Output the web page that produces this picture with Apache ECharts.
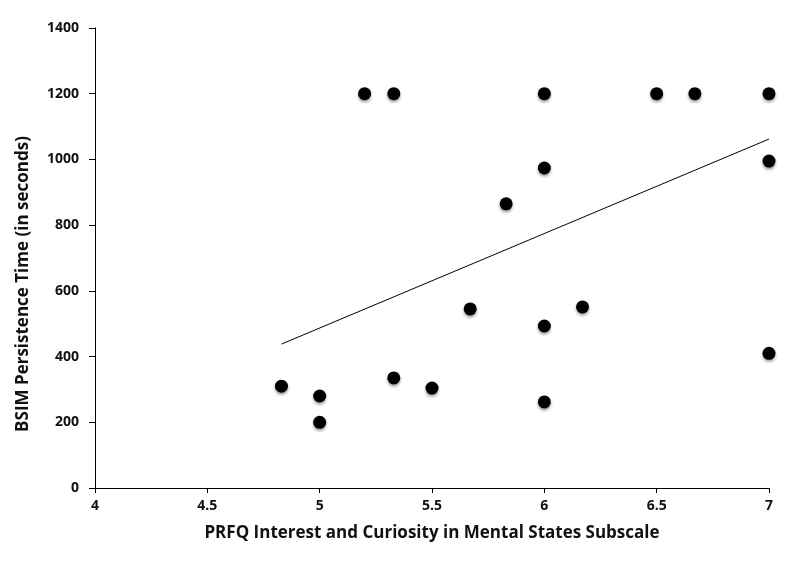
<!DOCTYPE html>
<html><head><meta charset="utf-8">
<script src="https://cdn.jsdelivr.net/npm/echarts@6/dist/echarts.min.js"></script>
<style>html,body{margin:0;padding:0;background:#fff}#c{width:800px;height:564px}</style>
</head><body><div id="c"></div>
<script>
const xValues = [4.83, 5, 5, 5.2, 5.33, 5.33, 5.5, 5.67, 5.83, 6, 6, 6, 6, 6.17, 6.5, 6.67, 7, 7, 7];
const yValues = [310, 280, 200, 1200, 1200, 335, 304, 545, 865, 1200, 974, 493, 262, 551, 1200, 1200, 1200, 995, 410];
const trendX = [4.83, 7];
const trendY = [438, 1062];
const xTitle = 'PRFQ Interest and Curiosity in Mental States Subscale';
const yTitle = 'BSIM Persistence Time (in seconds)';

const font = '"Open Sans", "Liberation Sans", sans-serif';
const chart = echarts.init(document.getElementById('c'), null, {renderer: 'canvas'});
chart.setOption({
  animation: false,
  backgroundColor: '#fff',
  grid: {left: 95, right: 31, top: 28, bottom: 76},
  graphic: [{
    type: 'text', x: 23, y: 284, rotation: Math.PI / 2,
    style: {text: yTitle, fontFamily: font, fontWeight: 'bold', fontSize: 17, fill: '#111',
      textAlign: 'center', textVerticalAlign: 'middle'}
  }],
  xAxis: {
    type: 'value', min: 4, max: 7, interval: 0.5,
    name: xTitle, nameLocation: 'middle', nameGap: 37,
    nameTextStyle: {fontFamily: font, fontWeight: 'bold', fontSize: 17, color: '#111'},
    axisLine: {lineStyle: {color: '#000', width: 1}},
    axisTick: {show: true, length: 5, lineStyle: {color: '#000'}},
    axisLabel: {fontFamily: font, fontWeight: 'bold', fontSize: 14, color: '#111', margin: 11,
      formatter: v => String(v)},
    splitLine: {show: false}
  },
  yAxis: {
    type: 'value', min: 0, max: 1400, interval: 200,
    axisLine: {show: true, lineStyle: {color: '#000', width: 1}},
    axisTick: {show: true, length: 6, lineStyle: {color: '#000'}},
    axisLabel: {fontFamily: font, fontWeight: 'bold', fontSize: 14, color: '#111', margin: 16,
      formatter: v => String(v)},
    splitLine: {show: false}
  },
  series: [
    {
      type: 'line', data: trendX.map((x, i) => [x, trendY[i]]),
      symbol: 'none', lineStyle: {color: '#000', width: 1}, z: 1
    },
    {
      type: 'scatter', data: xValues.map((x, i) => [x, yValues[i]]),
      symbolSize: 13,
      itemStyle: {color: '#000', opacity: 1, shadowColor: 'rgba(0,0,0,0.4)', shadowBlur: 3, shadowOffsetY: 2},
      z: 2
    }
  ]
});
</script></body></html>
